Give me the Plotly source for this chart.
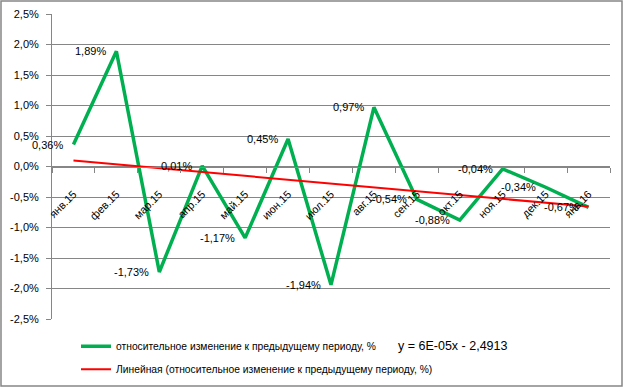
import numpy as np
import plotly.graph_objects as go

months = ["янв.15", "фев.15", "мар.15", "апр.15", "май.15", "июн.15", "июл.15",
          "авг.15", "сен.15", "окт.15", "ноя.15", "дек.15", "янв.16"]
values = [0.36, 1.89, -1.73, 0.01, -1.17, 0.45, -1.94, 0.97, -0.54, -0.88, -0.04, -0.34, -0.67]
y_ticks = [2.5, 2.0, 1.5, 1.0, 0.5, 0.0, -0.5, -1.0, -1.5, -2.0, -2.5]
y_tick_labels = ["2,5%", "2,0%", "1,5%", "1,0%", "0,5%", "0,0%", "-0,5%", "-1,0%", "-1,5%", "-2,0%", "-2,5%"]
series_name = "относительное изменение к предыдущему периоду, %"
trend_name = "Линейная (относительное изменение к предыдущему периоду, %)"
equation = "y = 6E-05x - 2,4913"

idx = np.arange(len(values))
slope, intercept = np.polyfit(idx, values, 1)
trend = slope * idx + intercept

labels = [("%.2f%%" % v).replace(".", ",") for v in values]

FONT = "Liberation Sans"
GRID = "#868686"

fig = go.Figure()
fig.add_trace(go.Scatter(
    x=months, y=values, mode="lines", name=series_name,
    line=dict(color="#00B050", width=3.5), legendgroup="a",
))
fig.add_trace(go.Scatter(
    x=months, y=trend, mode="lines", name=trend_name,
    line=dict(color="#FF0000", width=2), legendgroup="b",
))

annotations = [dict(x=m, y=v, text=t, xref="x", yref="y", showarrow=False,
                    xanchor="right", yanchor="middle", xshift=-8,
                    font=dict(family=FONT, size=11, color="#000000"))
               for m, v, t in zip(months, values, labels)]
annotations.append(dict(text=equation, xref="paper", yref="paper", x=0.617, y=-0.087,
                        xanchor="left", yanchor="middle", showarrow=False,
                        font=dict(family=FONT, size=12.5, color="#000000")))

fig.update_layout(
    width=624, height=389,
    margin=dict(l=52, r=14, t=14, b=70, autoexpand=False),
    paper_bgcolor="white", plot_bgcolor="white",
    font=dict(family=FONT, size=11, color="#000000"),
    showlegend=True,
    legend=dict(x=0.043, y=-0.042, xanchor="left", yanchor="top",
                bgcolor="rgba(0,0,0,0)", itemwidth=30, tracegroupgap=4,
                font=dict(family=FONT, size=10.3, color="#000000")),
    xaxis=dict(type="category", range=[-0.5, 12.5], anchor="free", position=0.5,
               automargin=False,
               showline=True, linecolor=GRID, linewidth=1,
               ticks="outside", ticklen=5, tickcolor=GRID, tickson="boundaries",
               tickangle=-45, ticklabelstandoff=16, showgrid=False, zeroline=False,
               tickfont=dict(family=FONT, size=11, color="#000000")),
    yaxis=dict(range=[-2.5, 2.5], tickvals=y_ticks, ticktext=y_tick_labels,
               automargin=False,
               showgrid=True, gridcolor=GRID, gridwidth=1, zeroline=False,
               showline=True, linecolor=GRID, ticks="outside", ticklen=5, tickcolor=GRID,
               ticklabelstandoff=5,
               tickfont=dict(family=FONT, size=11, color="#000000")),
    shapes=[dict(type="rect", xref="paper", yref="paper",
                 x0=-0.0914, x1=1.0215, y0=-0.2197, y1=1.0426,
                 line=dict(color="#868686", width=1.5), fillcolor="rgba(0,0,0,0)")],
    annotations=annotations,
)

fig.write_html("out.html", config={"displayModeBar": False},
               post_script="document.body.style.margin='0';document.body.style.padding='0';")
